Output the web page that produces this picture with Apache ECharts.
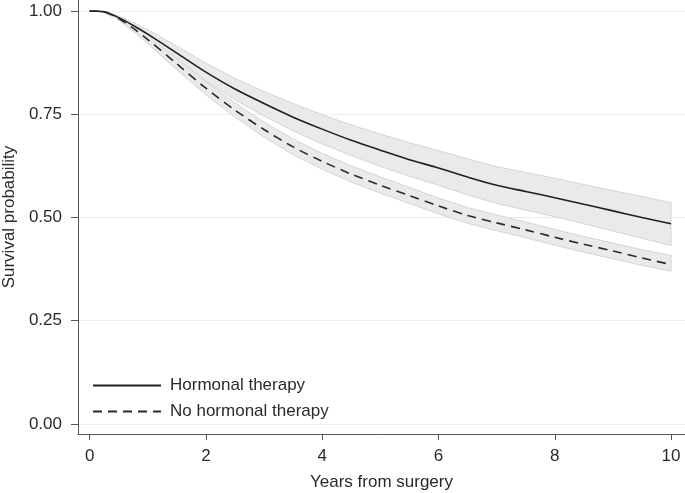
<!DOCTYPE html>
<html>
<head>
<meta charset="utf-8">
<script src="https://cdn.jsdelivr.net/npm/echarts@6/dist/echarts.min.js"></script>
<style>
html,body{margin:0;padding:0;background:#fff;}
#chart{width:685px;height:493px;}
</style>
</head>
<body>
<div id="chart"></div>
<script>
const years = [0,0.25,0.5,0.75,1,1.5,2,2.5,3,3.5,4,4.5,5,5.5,6,6.5,7,7.5,8,8.5,9,9.5,10];

const hormonal      = [1.000,0.998,0.984,0.965,0.944,0.898,0.852,0.811,0.776,0.743,0.714,0.687,0.663,0.640,0.620,0.598,0.578,0.563,0.548,0.532,0.516,0.500,0.485];
const hormonalUpper = [1.000,0.999,0.988,0.972,0.955,0.915,0.874,0.837,0.805,0.776,0.749,0.724,0.702,0.681,0.662,0.642,0.623,0.609,0.595,0.580,0.565,0.551,0.536];
const hormonalLower = [1.000,0.997,0.980,0.958,0.933,0.881,0.830,0.785,0.746,0.710,0.678,0.650,0.624,0.600,0.578,0.555,0.534,0.518,0.502,0.485,0.467,0.450,0.432];

const noHormonal      = [1.000,0.998,0.982,0.958,0.931,0.872,0.813,0.760,0.713,0.671,0.636,0.605,0.578,0.553,0.528,0.505,0.487,0.470,0.452,0.435,0.419,0.402,0.386];
const noHormonalUpper = [1.000,0.999,0.986,0.965,0.940,0.885,0.829,0.777,0.731,0.690,0.655,0.625,0.598,0.573,0.547,0.524,0.506,0.489,0.471,0.454,0.438,0.422,0.408];
const noHormonalLower = [1.000,0.997,0.978,0.951,0.921,0.858,0.797,0.743,0.695,0.652,0.617,0.586,0.559,0.534,0.509,0.486,0.468,0.451,0.433,0.416,0.400,0.384,0.370];

const xTicks = [0,2,4,6,8,10];
const yTicks = [0,0.25,0.5,0.75,1];

const seriesNames = ['Hormonal therapy','No hormonal therapy'];

function pairs(vals){ return years.map((t,i)=>[t, vals[i]]); }

function bandRenderer(up, lo){
  return function(params, api){
    if (params.dataIndex !== 0) return null;
    const pts = [];
    for (let i=0;i<years.length;i++) pts.push(api.coord([years[i], up[i]]));
    for (let i=years.length-1;i>=0;i--) pts.push(api.coord([years[i], lo[i]]));
    return {type:'polygon', shape:{points:pts}, style:{fill:'#e9eaeb', stroke:'#d4d5d6', lineWidth:1}};
  };
}

const font = 'Liberation Sans, Arial, sans-serif';
const fs = 17;
const txt = '#2a2a2a';
const chart = echarts.init(document.getElementById('chart'), null, {renderer:'canvas'});
chart.setOption({
  animation:false,
  backgroundColor:'#fff',
  grid:{left:78, right:0, top:0, bottom:59, containLabel:false, outerBoundsMode:'none'},
  legend:{
    data:seriesNames,
    orient:'vertical',
    left:87, top:372,
    itemWidth:68, itemHeight:17, itemGap:9,
    itemStyle:{color:'rgba(0,0,0,0)', borderColor:'rgba(0,0,0,0)', borderWidth:0},
    textStyle:{fontFamily:font, fontSize:fs, color:txt, padding:[0,0,0,4]}
  },
  xAxis:{
    type:'value', min:-0.2, max:10.24,
    name:'Years from surgery', nameLocation:'middle', nameGap:40,
    nameTextStyle:{fontFamily:font, fontSize:fs, color:txt},
    axisLine:{show:true, onZero:false, lineStyle:{color:'#555', width:1}},
    axisTick:{show:true, length:6, customValues:xTicks, lineStyle:{color:'#555'}},
    axisLabel:{customValues:xTicks, margin:14, fontFamily:font, fontSize:fs, color:txt},
    splitLine:{show:false}
  },
  yAxis:{
    type:'value', min:-0.0243, max:1.0267,
    name:'Survival probability', nameLocation:'middle', nameGap:59, nameRotate:90,
    nameTextStyle:{fontFamily:font, fontSize:fs, color:txt},
    axisLine:{show:true, onZero:false, lineStyle:{color:'#555', width:1}},
    axisTick:{show:true, length:7, customValues:yTicks, lineStyle:{color:'#555'}},
    axisLabel:{customValues:yTicks, margin:16, fontFamily:font, fontSize:fs, color:txt,
      formatter:v=>Number(v).toFixed(2)},
    splitLine:{show:true, lineStyle:{color:'#ececec', width:1}}
  },
  series:[
    {type:'custom', name:'band1', renderItem:bandRenderer(hormonalUpper, hormonalLower),
     data:pairs(hormonalUpper), encode:{x:0,y:1}, z:1, silent:true},
    {type:'custom', name:'band2', renderItem:bandRenderer(noHormonalUpper, noHormonalLower),
     data:pairs(noHormonalUpper), encode:{x:0,y:1}, z:1, silent:true},
    {type:'line', name:seriesNames[0], data:pairs(hormonal), symbol:'none', smooth:0.3, z:3,
     lineStyle:{color:'#1f1f1f', width:1.6, type:'solid'}, itemStyle:{color:'#1f1f1f'}},
    {type:'line', name:seriesNames[1], data:pairs(noHormonal), symbol:'none', smooth:0.3, z:3,
     lineStyle:{color:'#2a2a2a', width:1.6, type:[9,6]}, itemStyle:{color:'#2a2a2a'}}
  ]
});
</script>
</body>
</html>
